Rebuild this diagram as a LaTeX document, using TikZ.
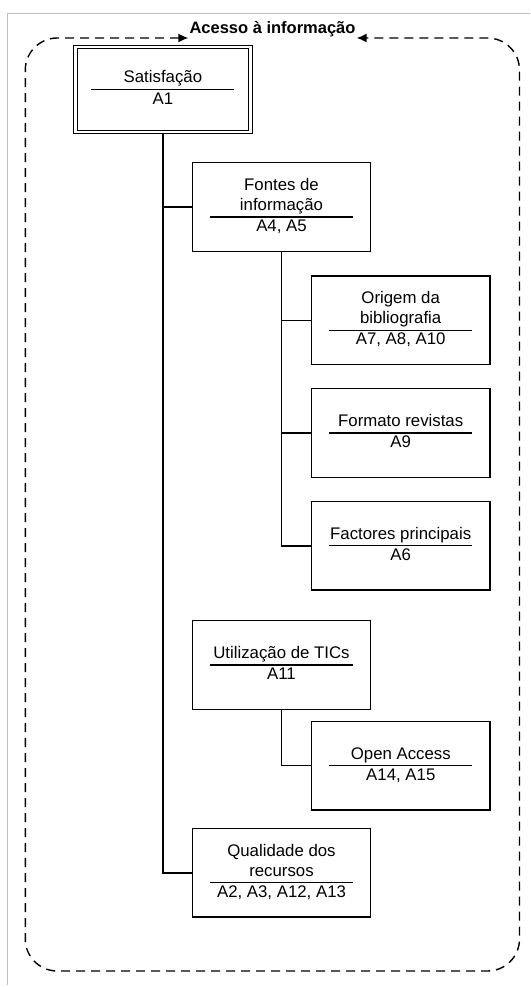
\documentclass[tikz,border=0pt]{standalone}
\usepackage{fontspec}
\setmainfont{Liberation Sans}
\usepackage{xcolor}
\usepackage{tikz}
\usetikzlibrary{arrows.meta,positioning}
\definecolor{FrameGray}{HTML}{C0C0C0}
\setlength{\arrayrulewidth}{1.2pt}
\newcommand{\boxlabel}[2]{\begin{tabular}{@{}c@{}}#1\\\hline\makebox[143pt]{#2}\end{tabular}}

\begin{document}
\begin{tikzpicture}[
  x=1pt, y=-1pt,
  node distance=22.9pt,
  font=\fontsize{16.8pt}{20pt}\selectfont,
  box/.style={draw,line width=1.3pt,minimum width=178.4pt,minimum height=88.6pt,inner sep=0pt},
  topbox/.style={draw,double,line width=1.1pt,double distance=2.7pt,minimum width=175.2pt,minimum height=85pt,inner sep=0pt},
  link/.style={line width=1.4pt},
  frame/.style={line width=1.4pt,dash pattern=on 9pt off 6pt,rounded corners=32pt},
  head/.style={font=\bfseries\fontsize{16.5pt}{20pt}\selectfont,inner sep=1pt,anchor=south}
]
  \useasboundingbox (0,0) rectangle (530,987);
  \draw[FrameGray,line width=1.5pt] (7.5,985) |- (530,13.3);

  \node[head] (title) at (272.5,38) {Acesso à informação};
  \node[topbox] (sat) at (162.9,89.5) {\boxlabel{Satisfação}{A1}};
  \node[box] (fontes) at (281.5,207) {\boxlabel{Fontes de\\informação}{A4, A5}};
  \node[box] (origem) at (400.7,320.2) {\boxlabel{Origem da\\bibliografia}{A7, A8, A10}};
  \node[box, below=of origem] (formato) {\boxlabel{Formato revistas}{A9}};
  \node[box, below=of formato] (factores) {\boxlabel{Factores principais}{A6}};
  \node[box] (tics) at (281.5,665) {\boxlabel{Utilização de TICs}{A11}};
  \node[box] (oa) at (400.8,765.7) {\boxlabel{Open Access}{A14, A15}};
  \node[box] (qual) at (281.5,872.8) {\boxlabel{Qualidade dos\\recursos}{A2, A3, A12, A13}};

  \draw[link] (sat) |- (qual);
  \draw[link] (sat) |- (fontes);
  \draw[link] (fontes) |- (origem);
  \draw[link] (fontes) |- (formato);
  \draw[link] (fontes) |- (factores);
  \draw[link] (tics) |- (oa);

  \coordinate (fbl) at (25.3,971);
  \coordinate (ftr) at (519.5,38);
  \draw[frame,{Latex[length=10pt,width=9pt]}-{Latex[length=10pt,width=9pt]}] (title.south west) -| (fbl) -| (ftr) -- (title.south east);
\end{tikzpicture}
\end{document}
